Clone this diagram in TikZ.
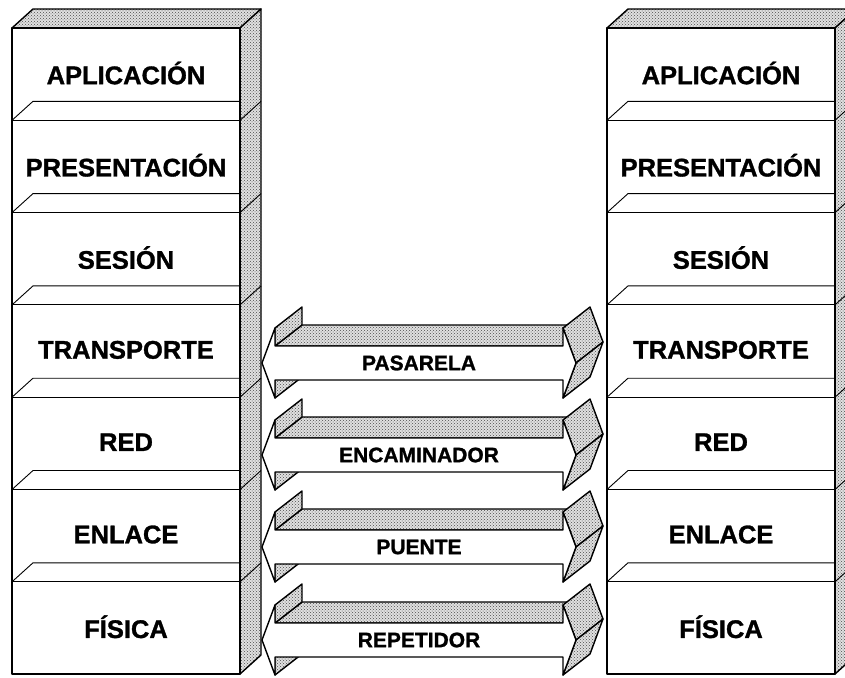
\documentclass[tikz,border=0pt]{standalone}
\usepackage{fontspec}
\setmainfont{Liberation Sans}[BoldFeatures={FakeBold=1.2}]
\usetikzlibrary{patterns}

\tikzset{
  layerlbl/.style={font=\bfseries\fontsize{25.5}{26}\selectfont},
  arrowlbl/.style={font=\bfseries\fontsize{21}{22}\selectfont},
  shade3d/.style={preaction={fill=black!12}, pattern=crosshatch dots, pattern color=black!70},
  edge3d/.style={line width=1.4pt, line join=round},
  shelf/.style={line width=0.9pt},
}

\begin{document}
\begin{tikzpicture}[x=1pt, y=-1pt]
  \useasboundingbox (0,0) rectangle (845,677);
  \clip (0,0) rectangle (845,677);
  \fill[white] (0,0) rectangle (845,677);

  % the two stacks
  \foreach \s/\x in {l/12, r/607} {
    \draw[edge3d, shade3d] (\x,28) -- (\x+21,9) -- (\x+249,9) -- (\x+228,28) -- cycle;
    \draw[edge3d, shade3d] (\x+228,28) -- (\x+249,9) -- (\x+249,655) -- (\x+228,674) -- cycle;
    \draw[edge3d] (\x,28) rectangle (\x+228,674);
    \foreach \k in {1,...,6} {
      \draw[shelf] (\x,28+92.3*\k) -- (\x+21,9+92.3*\k) -- (\x+228,9+92.3*\k);
      \draw[shelf] (\x,28+92.3*\k) -- (\x+228,28+92.3*\k);
      \draw[shelf] (\x+228,28+92.3*\k) -- (\x+249,9+92.3*\k);
    }
    \foreach \lbl [count=\k from 0] in {APLICACIÓN, PRESENTACIÓN, SESIÓN, TRANSPORTE, RED, ENLACE, FÍSICA}
      \node[layerlbl] (\s\k) at (\x+114,73+92.3*\k) {\lbl};
  }

  % devices between the layers
  \foreach \c/\name [count=\i] in {363/PASARELA, 455/ENCAMINADOR, 547/PUENTE, 640/REPETIDOR} {
    \draw[edge3d, shade3d] (275,\c-17) -- (563,\c-17) -- (590,\c-38) -- (302,\c-38) -- cycle;
    \draw[edge3d, shade3d] (275,\c-35) -- (275,\c-17) -- (302,\c-38) -- (302,\c-56) -- cycle;
    \draw[edge3d, shade3d] (275,\c+17) -- (275,\c+35) -- (302,\c+14) -- (302,\c-4) -- cycle;
    \draw[edge3d, shade3d] (563,\c-35) -- (576,\c) -- (603,\c-21) -- (590,\c-56) -- cycle;
    \draw[edge3d, shade3d] (576,\c) -- (563,\c+35) -- (590,\c+14) -- (603,\c-21) -- cycle;
    \draw[edge3d, fill=white] (262,\c) -- (275,\c-35) -- (275,\c-17) -- (563,\c-17)
      -- (563,\c-35) -- (576,\c) -- (563,\c+35) -- (563,\c+17) -- (275,\c+17)
      -- (275,\c+35) -- cycle;
    \node[arrowlbl] (a\i) at (419,\c) {\name};
  }
\end{tikzpicture}
\end{document}
